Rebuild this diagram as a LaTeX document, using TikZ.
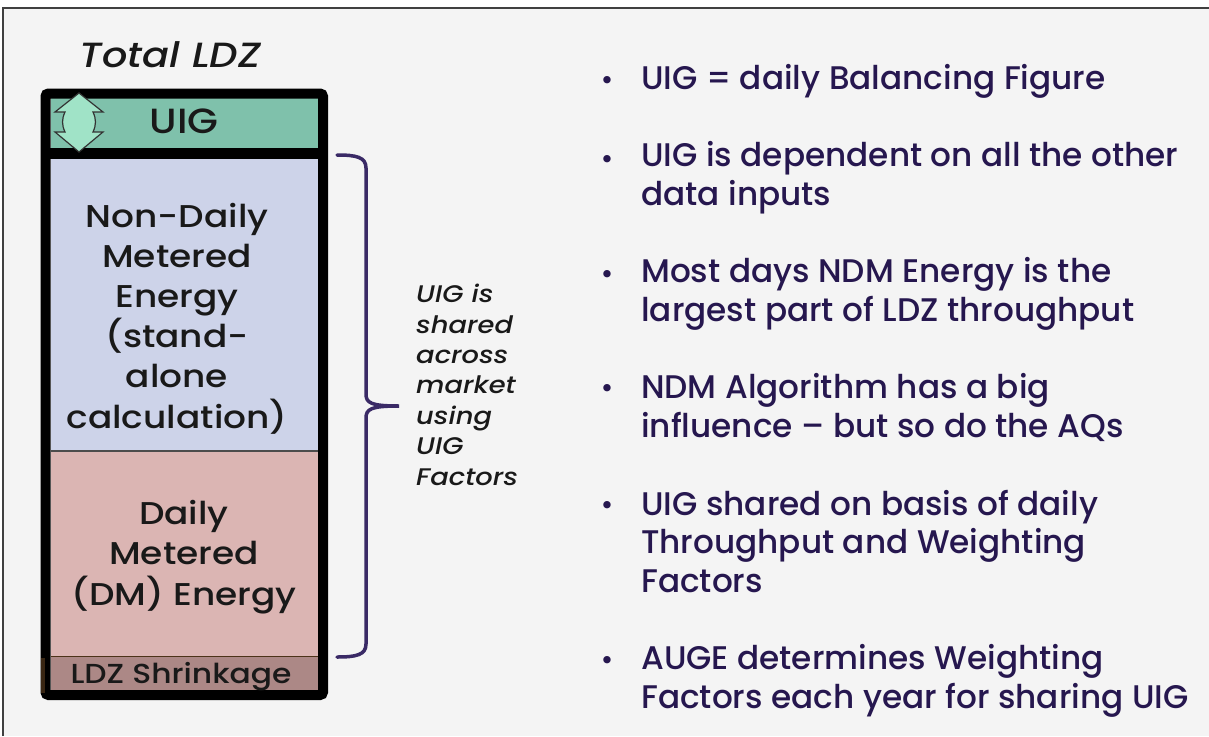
\documentclass[tikz,border=0pt]{standalone}
\usepackage{fontspec}
\setmainfont{Poppins}[UprightFont=* Medium,ItalicFont=* Medium Italic]
\newfontfamily\boxfont{Poppins}[FakeStretch=1.14,UprightFont=* Medium,ItalicFont=* Medium Italic]
\usetikzlibrary{positioning}
\definecolor{paper}{HTML}{F4F4F4}
\definecolor{uiggreen}{HTML}{7FC1AB}
\definecolor{arrowmint}{HTML}{A0E3C7}
\definecolor{ndmblue}{HTML}{CDD3E9}
\definecolor{dmpink}{HTML}{DBB5B3}
\definecolor{shrinkbrown}{HTML}{AC8886}
\definecolor{navy}{HTML}{26174F}
\definecolor{bracepurple}{HTML}{3A2A66}
\begin{document}
\begin{tikzpicture}[x=1pt,y=-1pt,
    band/.style={anchor=base,inner sep=0pt,align=center,text=black!90,
        font=\boxfont\fontsize{31.5}{40.2}\selectfont},
    point/.style={anchor=base west,inner sep=0pt,align=left,text=navy,
        font=\fontsize{32.7}{38.5}\selectfont},
    dot/.style={anchor=base,inner sep=0pt,text=navy,font=\fontsize{28}{38}\selectfont}]
    \useasboundingbox (0,0) rectangle (1209,736);
    \fill[white] (0,0) rectangle (1209,736);
    \fill[paper] (3,8) rectangle (1209,736);
    \draw[line width=1.6pt,black!75] (3,736) -- (3,8) -- (1209,8);
    \fill[uiggreen] (51,98) rectangle (318,148);
    \fill[ndmblue] (51,159) rectangle (318,451);
    \fill[dmpink] (51,451) rectangle (318,656);
    \fill[shrinkbrown] (51,656) rectangle (318,691);
    \draw[line width=1.5pt,black!70] (51,451) -- (318,451);
    \draw[line width=1.5pt,brown!40!black] (51,656.5) -- (318,656.5);
    \draw[line width=11pt] (45.5,153.5) -- (323,153.5);
    \draw[line width=10pt,rounded corners=3pt] (45.5,93.5) rectangle (323,695);
    \draw[line width=4pt,brown!30!black] (43,658) -- (43,693);
    \filldraw[fill=arrowmint,draw=black!80,line width=1.2pt]
        (79,93) -- (103,112) -- (93,112) to[bend left=25] (93,132) -- (103,132)
        -- (79,152) -- (55,132) -- (65,132) to[bend left=25] (65,112) -- (55,112) -- cycle;
    \node[band] (total) at (170,67) {\fontsize{35}{40}\selectfont\itshape Total LDZ};
    \node[band,font=\boxfont\fontsize{35}{40}\selectfont] (uig) at (184,133) {UIG};
    \node[band] (ndm) at (177,428) {Non-Daily\\Metered\\Energy\\(stand-\\alone\\calculation)};
    \node[band] (dm) at (184,605) {Daily\\Metered\\(DM) Energy};
    \node[band,font=\boxfont\fontsize{27.5}{30}\selectfont] (shrink) at (181,683) {LDZ Shrinkage};
    \draw[bracepurple,line width=3.5pt,line cap=round]
        (337,155) .. controls (356,155) and (366,157) .. (366,168) -- (366,394)
        .. controls (366,403) and (371,406) .. (399,406)
        .. controls (371,406) and (366,409) .. (366,418) -- (366,644)
        .. controls (366,655) and (356,657) .. (337,657);
    \node[anchor=base west,inner sep=0pt,align=left,text=black!90,
        font=\boxfont\fontsize{24}{30.4}\selectfont\itshape] (share) at (416,485)
        {UIG is\\shared\\across\\market\\using\\UIG\\Factors};
    \foreach \y in {89,168,283,397,514,669}
        \node[dot] at (607,\y) {•};
    \node[point] (p1) at (641,89) {UIG = daily Balancing Figure};
    \node[point] (p2) at (641,205) {UIG is dependent on all the other\\data inputs};
    \node[point] (p3) at (641,321) {Most days NDM Energy is the\\largest part of LDZ throughput};
    \node[point] (p4) at (641,437) {NDM Algorithm has a big\\influence – but so do the AQs};
    \node[point] (p5) at (641,592) {UIG shared on basis of daily\\Throughput and Weighting\\Factors};
    \node[point] (p6) at (641,708) {AUGE determines Weighting\\Factors each year for sharing UIG};
\end{tikzpicture}
\end{document}
